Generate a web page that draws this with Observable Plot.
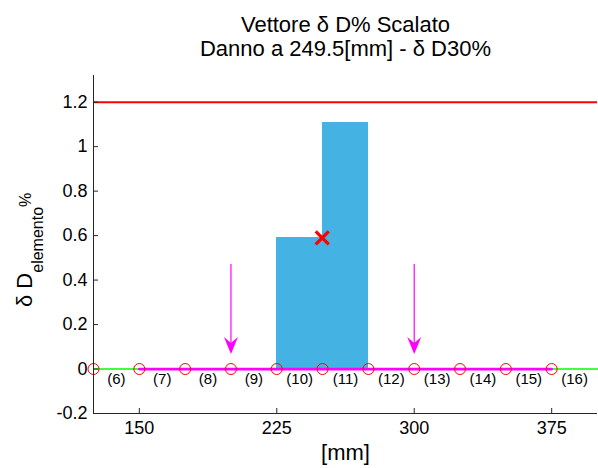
<!DOCTYPE html>
<html>
<head>
<meta charset="utf-8">
<script src="https://cdn.jsdelivr.net/npm/d3@7"></script>
<script src="https://cdn.jsdelivr.net/npm/@observablehq/plot@0.6"></script>
<style>
  body { margin: 0; background: #fff; }
</style>
</head>
<body>
<div id="chart"></div>
<script>
// ---- data ----
const titleLines = ["Vettore δ D% Scalato", "Danno a 249.5[mm] - δ D30%"];
const xLabel = "[mm]";
const elemStart = [125, 150, 175, 200, 225, 250, 275, 300, 325, 350, 375];
const elemLabel = ["(6)", "(7)", "(8)", "(9)", "(10)", "(11)", "(12)", "(13)", "(14)", "(15)", "(16)"];
const elemLength = 25;
const damage = [0, 0, 0, 0, 0.592, 1.108, 0, 0, 0, 0, 0];
const nodes = [125, 150, 175, 200, 225, 250, 275, 300, 325, 350, 375];
const greenX = [125, 400];
const magentaX = [150, 375];
const thresholdY = 1.2;
const arrowX = [200, 300];
const arrowTop = 0.47;
const arrowTip = 0.068;
const peakX = [249.8];
const peakY = [0.59];
const xTicks = [150, 225, 300, 375];
const yTicks = [-0.2, 0, 0.2, 0.4, 0.6, 0.8, 1, 1.2];
const xDomain = [125, 400];
const yDomain = [-0.2, 1.32];

const elements = elemStart.map((s, i) => ({start: s, label: elemLabel[i], value: damage[i]}));
const peaks = peakX.map((x, i) => ({x, y: peakY[i]}));

const arrowHead = {
  draw(context) {
    context.moveTo(0, 0);
    context.lineTo(-7, -17);
    context.lineTo(0, -11);
    context.lineTo(7, -17);
    context.closePath();
  }
};

const axisColor = "#262626";
const font = "'Liberation Sans', Arial, sans-serif";

const chart = Plot.plot({
  width: 598,
  height: 468,
  marginLeft: 93,
  marginRight: 1,
  marginTop: 75,
  marginBottom: 55,
  style: {fontFamily: font, background: "#fff", color: "#000"},
  x: {domain: xDomain},
  y: {domain: yDomain},
  marks: [
    Plot.rect(elements, {x1: d => d.start, x2: d => d.start + elemLength, y1: d => 0, y2: d => d.value, fill: "#44b3e3", shapeRendering: "crispEdges"}),
    Plot.ruleY([thresholdY], {stroke: "#ff0000", strokeWidth: 2}),
    Plot.line(greenX, {x: d => d, y: d => 0, stroke: "#00ff00", strokeWidth: 1.5}),
    Plot.line(magentaX, {x: d => d, y: d => 0, stroke: "#ff00ff", strokeWidth: 2.7}),
    Plot.dot(nodes, {x: d => d, y: d => 0, r: 5.5, stroke: "#ff0000", fill: "none", strokeWidth: 1}),
    Plot.text(elements, {x: d => d.start + elemLength / 2, y: d => 0, text: d => d.label, dy: 10, fontSize: 15, fill: "#000"}),
    Plot.ruleX(arrowX, {x: d => d, y1: arrowTop, y2: arrowTip + 0.03, stroke: "#ff00ff", strokeWidth: 1.2}),
    Plot.dot(arrowX, {x: d => d, y: d => arrowTip, symbol: arrowHead, fill: "#ff00ff", stroke: "none", r: 5}),
    Plot.dot(peaks, {x: "x", y: "y", symbol: "times", stroke: "#ff0000", strokeWidth: 3.2, r: 6}),
    Plot.ruleX([xDomain[0]], {stroke: axisColor, strokeWidth: 1}),
    Plot.ruleY([yDomain[0]], {stroke: axisColor, strokeWidth: 1}),
    Plot.axisY(yTicks, {tickSize: 0, tickPadding: 6, fontSize: 18, tickFormat: d => String(d), label: null, fill: "#000"}),
    Plot.axisY(yTicks, {tickSize: 5, dx: 5, tickFormat: () => "", label: null, stroke: axisColor}),
    Plot.axisX(xTicks, {tickSize: 0, tickPadding: 8, fontSize: 18, tickFormat: d => String(d), label: null, fill: "#000"}),
    Plot.axisX(xTicks, {tickSize: 5, dy: -5, tickFormat: () => "", label: null, stroke: axisColor}),
    Plot.text([titleLines[0]], {frameAnchor: "top", dy: -51, fontSize: 22, fill: "#000", lineAnchor: "middle"}),
    Plot.text([titleLines[1]], {frameAnchor: "top", dy: -27, fontSize: 22, fill: "#000", lineAnchor: "middle"}),
    Plot.text([xLabel], {frameAnchor: "bottom", dy: 39, fontSize: 22, fill: "#000", lineAnchor: "middle"})
  ]
});

// y label with subscript / superscript
const svg = d3.select(chart);
const yl = svg.append("text")
  .attr("transform", "translate(32,307) rotate(-90)")
  .attr("text-anchor", "start")
  .attr("font-family", font)
  .attr("fill", "#000");
yl.append("tspan").attr("font-size", 22).text("δ D");
yl.append("tspan").attr("font-size", 16).attr("dy", 11).text("elemento");
yl.append("tspan").attr("font-size", 16).attr("dy", -12).text("%");

document.getElementById("chart").appendChild(chart);
</script>
</body>
</html>
